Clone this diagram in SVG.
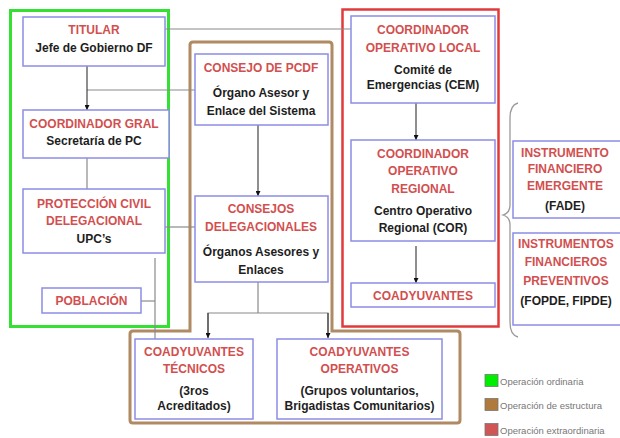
<svg xmlns="http://www.w3.org/2000/svg" width="620" height="438" viewBox="0 0 620 438">
<defs>
<marker id="arr" viewBox="0 0 6 6" refX="6" refY="3" markerWidth="5" markerHeight="5" orient="auto" markerUnits="userSpaceOnUse">
<path d="M0,0 L6,3 L0,6 z" fill="#111"/>
</marker>
<style>
.node{fill:#fff;stroke:#8c8ce6;stroke-width:1.5}
.t{font-family:"Liberation Sans",Arial,sans-serif;font-weight:bold;font-size:12px;fill:#d24f4f;text-anchor:middle}
.b{font-family:"Liberation Sans",Arial,sans-serif;font-weight:bold;font-size:12px;fill:#1e1e1e;text-anchor:middle}
.ln{fill:none;stroke:#8a8a8a;stroke-width:1.2}
.ar{fill:none;stroke:#333;stroke-width:1.1;marker-end:url(#arr)}
.lg{font-family:"Liberation Sans",Arial,sans-serif;font-size:9.5px;fill:#777}
</style>
</defs>
<rect width="620" height="438" fill="#fff"/>
<!-- group frames -->
<g id="frames">
<rect x="10.5" y="10.5" width="158" height="316" fill="none" stroke="#33e033" stroke-width="3"/>
<path d="M193,42 H329 Q332,42 332,45 V331 H457 Q460,331 460,334 V420 Q460,423 457,423 H133 Q130,423 130,420 V334 Q130,331 133,331 H190 V45 Q190,42 193,42 Z" fill="none" stroke="#b08a62" stroke-width="3"/>
<rect x="342.5" y="9.5" width="156" height="317" fill="none" stroke="#e23a3a" stroke-width="2.5"/>
</g>
<!-- connectors -->
<g id="connectors">
<line class="ln" x1="165" y1="29" x2="351" y2="29"/>
<line class="ln" x1="87" y1="90" x2="195" y2="90"/>
<line class="ar" x1="87" y1="66" x2="87" y2="110"/>
<line class="ln" x1="87" y1="158" x2="87" y2="189"/>
<line class="ln" x1="165" y1="227" x2="195" y2="227"/>
<line class="ln" x1="141" y1="301" x2="155" y2="301"/>
<line class="ln" x1="155" y1="258" x2="155" y2="339"/>
<line class="ar" x1="258" y1="125" x2="258" y2="196"/>
<line class="ln" x1="258" y1="282" x2="258" y2="313"/>
<path class="ln" d="M208,337 V313 H328 V337"/>
<line class="ar" x1="208" y1="313" x2="208" y2="338"/>
<line class="ar" x1="328" y1="313" x2="328" y2="338"/>
<line class="ar" x1="416" y1="103" x2="416" y2="140"/>
<line class="ar" x1="416" y1="246" x2="416" y2="283"/>
<path d="M518,103 Q510,105 510,118 V205 Q510,213 503,215 Q510,217 510,225 V322 Q510,335 518,337" fill="none" stroke="#9a9a9a" stroke-width="1.3"/>
</g>
<!-- nodes -->
<g id="titular">
<rect class="node" x="23" y="17" width="142" height="49"/>
<text class="t" x="94" y="34">TITULAR</text>
<text class="b" x="94" y="52">Jefe de Gobierno DF</text>
</g>
<g id="coordinador-gral">
<rect class="node" x="23" y="110" width="146" height="48"/>
<text class="t" x="94" y="128">COORDINADOR GRAL</text>
<text class="b" x="94" y="145">Secretaría de PC</text>
</g>
<g id="pc-delegacional">
<rect class="node" x="23" y="189" width="142" height="64"/>
<text class="t" x="94" y="208">PROTECCIÓN CIVIL</text>
<text class="t" x="94" y="225">DELEGACIONAL</text>
<text class="b" x="94" y="243">UPC’s</text>
</g>
<g id="poblacion">
<rect class="node" x="42" y="288" width="99" height="25"/>
<text class="t" x="91.5" y="305">POBLACIÓN</text>
</g>
<g id="consejo-pcdf">
<rect class="node" x="195" y="54" width="133" height="71"/>
<text class="t" x="261" y="72">CONSEJO DE PCDF</text>
<text class="b" x="261" y="97">Órgano Asesor y</text>
<text class="b" x="261" y="115">Enlace del Sistema</text>
</g>
<g id="consejos-delegacionales">
<rect class="node" x="195" y="196" width="133" height="86"/>
<text class="t" x="261" y="213">CONSEJOS</text>
<text class="t" x="261" y="231">DELEGACIONALES</text>
<text class="b" x="261" y="256">Órganos Asesores y</text>
<text class="b" x="261" y="274">Enlaces</text>
</g>
<g id="coadyuvantes-tecnicos">
<rect class="node" x="135" y="339" width="118" height="80"/>
<text class="t" x="194" y="356">COADYUVANTES</text>
<text class="t" x="194" y="373">TÉCNICOS</text>
<text class="b" x="194" y="395">(3ros</text>
<text class="b" x="194" y="410">Acreditados)</text>
</g>
<g id="coadyuvantes-operativos">
<rect class="node" x="277" y="339" width="165" height="80"/>
<text class="t" x="359.5" y="356">COADYUVANTES</text>
<text class="t" x="359.5" y="373">OPERATIVOS</text>
<text class="b" x="359.5" y="395">(Grupos voluntarios,</text>
<text class="b" x="359.5" y="410">Brigadistas Comunitarios)</text>
</g>
<g id="coordinador-local">
<rect class="node" x="351" y="16" width="144" height="87"/>
<text class="t" x="423" y="34">COORDINADOR</text>
<text class="t" x="423" y="52">OPERATIVO LOCAL</text>
<text class="b" x="423" y="74">Comité de</text>
<text class="b" x="423" y="89">Emergencias (CEM)</text>
</g>
<g id="coordinador-regional">
<rect class="node" x="351" y="140" width="144" height="101"/>
<text class="t" x="423" y="158">COORDINADOR</text>
<text class="t" x="423" y="175">OPERATIVO</text>
<text class="t" x="423" y="193">REGIONAL</text>
<text class="b" x="423" y="215">Centro Operativo</text>
<text class="b" x="423" y="232">Regional (COR)</text>
</g>
<g id="coadyuvantes">
<rect class="node" x="351" y="283" width="144" height="24"/>
<text class="t" x="423" y="300">COADYUVANTES</text>
</g>
<g id="instrumento-emergente">
<rect class="node" x="513" y="141" width="110" height="77"/>
<text class="t" x="565" y="157">INSTRUMENTO</text>
<text class="t" x="565" y="173">FINANCIERO</text>
<text class="t" x="565" y="190">EMERGENTE</text>
<text class="b" x="565" y="210">(FADE)</text>
</g>
<g id="instrumentos-preventivos">
<rect class="node" x="513" y="233" width="110" height="92"/>
<text class="t" x="566" y="248">INSTRUMENTOS</text>
<text class="t" x="566" y="266">FINANCIEROS</text>
<text class="t" x="566" y="285">PREVENTIVOS</text>
<text class="b" x="566" y="305">(FOPDE, FIPDE)</text>
</g>
<!-- legend -->
<g id="legend">
<rect x="485" y="374.5" width="13" height="12" fill="#00ee00" stroke="#777" stroke-width="0.8"/>
<text class="lg" x="500" y="385">Operación ordinaria</text>
<rect x="485" y="398.5" width="13" height="12" fill="#b07a3c" stroke="#777" stroke-width="0.8"/>
<text class="lg" x="500" y="409">Operación de estructura</text>
<rect x="485" y="423.5" width="13" height="12" fill="#d05555" stroke="#777" stroke-width="0.8"/>
<text class="lg" x="500" y="434">Operación extraordinaria</text>
</g>
</svg>
